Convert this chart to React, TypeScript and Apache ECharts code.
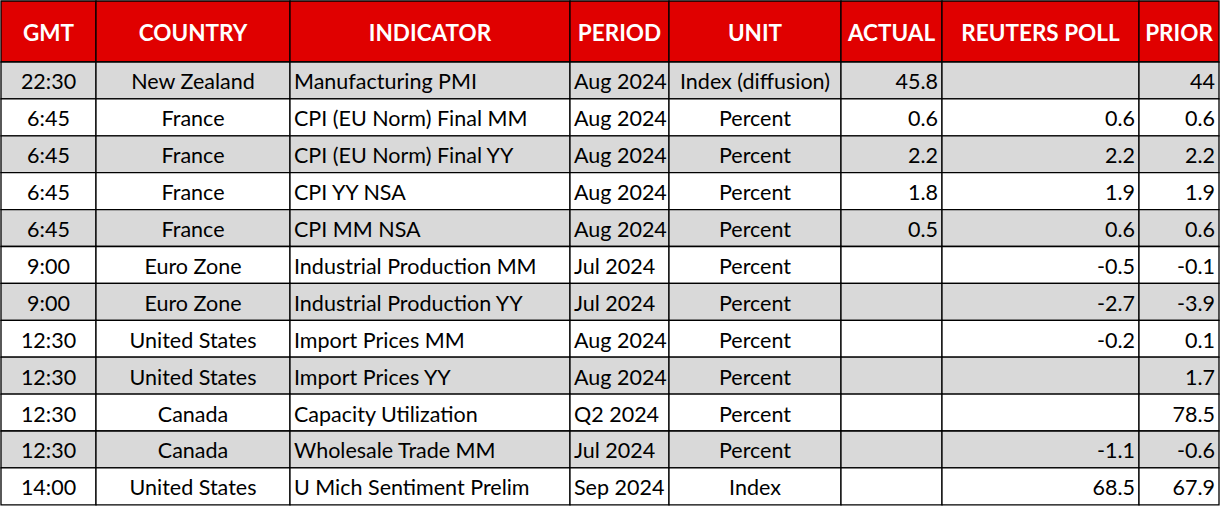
import React, { useEffect, useRef } from "react";
import * as echarts from "echarts";

const headers = ["GMT", "COUNTRY", "INDICATOR", "PERIOD", "UNIT", "ACTUAL", "REUTERS POLL", "PRIOR"];
const gmt = ["22:30", "6:45", "6:45", "6:45", "6:45", "9:00", "9:00", "12:30", "12:30", "12:30", "12:30", "14:00"];
const countries = ["New Zealand", "France", "France", "France", "France", "Euro Zone", "Euro Zone", "United States", "United States", "Canada", "Canada", "United States"];
const indicators = [
  "Manufacturing PMI",
  "CPI (EU Norm) Final MM",
  "CPI (EU Norm) Final YY",
  "CPI YY NSA",
  "CPI MM NSA",
  "Industrial Production MM",
  "Industrial Production YY",
  "Import Prices MM",
  "Import Prices YY",
  "Capacity Utilization",
  "Wholesale Trade MM",
  "U Mich Sentiment Prelim",
];
const periods = ["Aug 2024", "Aug 2024", "Aug 2024", "Aug 2024", "Aug 2024", "Jul 2024", "Jul 2024", "Aug 2024", "Aug 2024", "Q2 2024", "Jul 2024", "Sep 2024"];
const units = ["Index (diffusion)", "Percent", "Percent", "Percent", "Percent", "Percent", "Percent", "Percent", "Percent", "Percent", "Percent", "Index"];
const actual: (number | null)[] = [45.8, 0.6, 2.2, 1.8, 0.5, null, null, null, null, null, null, null];
const poll: (number | null)[] = [null, 0.6, 2.2, 1.9, 0.6, -0.5, -2.7, -0.2, null, null, -1.1, 68.5];
const prior: (number | null)[] = [44, 0.6, 2.2, 1.9, 0.6, -0.1, -3.9, 0.1, 1.7, 78.5, -0.6, 67.9];

// layout (not data)
const colEdges = [1, 96, 290, 570, 669, 841, 942, 1139, 1219];
const headerBottom = 62;
const rowH = 36.9;
const aligns = ["center", "center", "left", "left", "center", "right", "right", "right"];
const FONT = "Lato, 'Noto Sans', sans-serif";

const fmt = (v: number | null) => (v === null ? "" : String(v));

function cellText(c: number, r: number): string {
  if (r < 0) return headers[c];
  switch (c) {
    case 0: return gmt[r];
    case 1: return countries[r];
    case 2: return indicators[r];
    case 3: return periods[r];
    case 4: return units[r];
    case 5: return fmt(actual[r]);
    case 6: return fmt(poll[r]);
    default: return fmt(prior[r]);
  }
}

const rowTop = (r: number) => (r < 0 ? 1 : headerBottom + r * rowH);
const rowBottom = (r: number) => (r < 0 ? headerBottom : headerBottom + (r + 1) * rowH);

export default function App() {
  const ref = useRef<HTMLDivElement>(null);
  useEffect(() => {
    document.body.style.margin = "0";
    const chart = echarts.init(ref.current!, null, { renderer: "svg" });
    const cells: number[][] = [];
    for (let r = -1; r < gmt.length; r++) {
      for (let c = 0; c < headers.length; c++) cells.push([c, r]);
    }
    chart.setOption({
      animation: false,
      grid: { left: 0, right: 0, top: 0, bottom: 0 },
      xAxis: { type: "value", min: 0, max: 1220, show: false },
      yAxis: { type: "value", min: 0, max: 506, inverse: true, show: false },
      series: [
        {
          type: "custom",
          coordinateSystem: "cartesian2d",
          data: cells,
          silent: true,
          renderItem: (params: any, api: any) => {
            const c = api.value(0);
            const r = api.value(1);
            const p0 = api.coord([colEdges[c], rowTop(r)]);
            const p1 = api.coord([colEdges[c + 1], rowBottom(r)]);
            const isHeader = r < 0;
            const fill = isHeader ? "#E00000" : r % 2 === 0 ? "#D9D9D9" : "#FFFFFF";
            const align = isHeader ? "center" : aligns[c];
            const w = p1[0] - p0[0];
            let tx = p0[0] + w / 2;
            if (align === "left") tx = p0[0] + 4;
            if (align === "right") tx = p1[0] - 4;
            return {
              type: "group",
              children: [
                {
                  type: "rect",
                  shape: { x: p0[0], y: p0[1], width: w, height: p1[1] - p0[1] },
                  style: { fill, stroke: "#000000", lineWidth: 1.3 },
                },
                {
                  type: "text",
                  x: tx,
                  y: (p0[1] + p1[1]) / 2 + 1,
                  style: {
                    text: cellText(c, r),
                    fill: isHeader ? "#FFFFFF" : "#000000",
                    font: isHeader ? `bold 22.5px ${FONT}` : `21.5px ${FONT}`,
                    align,
                    verticalAlign: "middle",
                  },
                },
              ],
            };
          },
        },
      ],
    });
    return () => chart.dispose();
  }, []);
  return <div ref={ref} style={{ width: 1220, height: 506 }} />;
}
